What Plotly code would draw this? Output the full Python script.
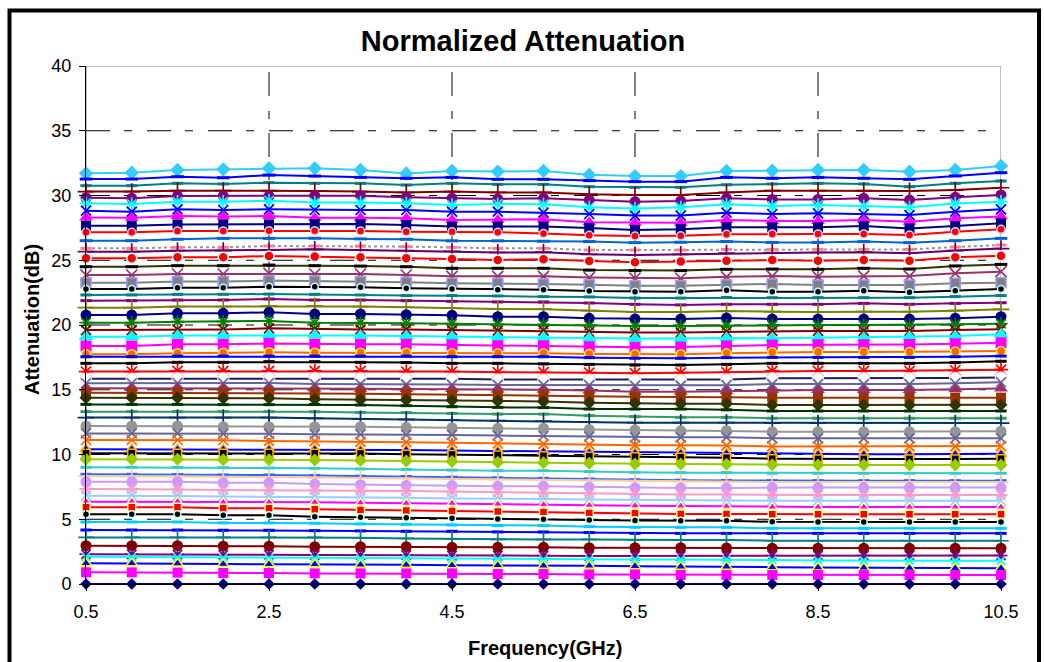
import plotly.graph_objects as go

# ---------------- data ----------------
freq_ghz = [0.5, 1.0, 1.5, 2.0, 2.5, 3.0, 3.5, 4.0, 4.5, 5.0, 5.5,
            6.0, 6.5, 7.0, 7.5, 8.0, 8.5, 9.0, 9.5, 10.0, 10.5]

x_ticks = [0.5, 2.5, 4.5, 6.5, 8.5, 10.5]
y_ticks = [0, 5, 10, 15, 20, 25, 30, 35, 40]

att01 = [31.71, 31.76, 31.97, 32.02, 32.10, 32.10, 31.97, 31.70, 31.90, 31.85, 31.90, 31.60, 31.50, 31.50, 31.90, 31.92, 31.97, 31.97, 31.84, 31.97, 32.28]
att02 = [31.27, 31.27, 31.45, 31.37, 31.58, 31.50, 31.40, 31.33, 31.40, 31.25, 31.25, 31.15, 31.07, 31.07, 31.40, 31.33, 31.40, 31.33, 31.25, 31.51, 31.76]
att03 = [30.76, 30.76, 30.94, 30.89, 30.99, 30.94, 30.94, 30.81, 30.94, 30.86, 30.86, 30.68, 30.63, 30.63, 30.83, 30.89, 30.94, 30.89, 30.68, 30.94, 31.12]
att04 = [30.30, 30.30, 30.37, 30.37, 30.37, 30.35, 30.30, 30.24, 30.30, 30.24, 30.24, 30.09, 30.04, 30.04, 30.24, 30.37, 30.37, 30.37, 30.35, 30.42, 30.60]
att05 = [29.83, 29.78, 29.96, 29.96, 29.96, 29.99, 29.99, 29.86, 29.78, 29.73, 29.78, 29.65, 29.52, 29.57, 29.78, 29.70, 29.70, 29.78, 29.65, 29.86, 30.04]
att06 = [29.40, 29.34, 29.52, 29.52, 29.60, 29.45, 29.45, 29.40, 29.27, 29.34, 29.32, 29.09, 28.99, 29.09, 29.32, 29.19, 29.27, 29.19, 29.09, 29.39, 29.52]
att07 = [28.83, 28.75, 28.93, 28.88, 28.93, 28.88, 28.88, 28.88, 28.75, 28.75, 28.67, 28.57, 28.45, 28.45, 28.67, 28.57, 28.62, 28.57, 28.49, 28.75, 28.93]
att08 = [28.31, 28.29, 28.42, 28.37, 28.42, 28.29, 28.29, 28.24, 28.11, 28.11, 28.16, 27.93, 27.90, 27.90, 28.11, 28.03, 28.03, 28.11, 27.98, 28.24, 28.37]
att09 = [27.67, 27.67, 27.77, 27.77, 27.77, 27.80, 27.80, 27.72, 27.60, 27.60, 27.60, 27.50, 27.34, 27.40, 27.55, 27.54, 27.54, 27.64, 27.46, 27.64, 27.85]
att10 = [27.16, 27.16, 27.26, 27.26, 27.28, 27.28, 27.26, 27.21, 27.21, 27.16, 27.07, 26.93, 26.87, 26.90, 27.00, 27.03, 27.03, 27.03, 26.95, 27.21, 27.39]
att11 = [26.51, 26.51, 26.62, 26.69, 26.69, 26.70, 26.65, 26.62, 26.50, 26.50, 26.47, 26.44, 26.36, 26.39, 26.44, 26.38, 26.38, 26.44, 26.36, 26.51, 26.69]
att12 = [25.92, 25.92, 26.00, 26.00, 26.10, 26.10, 26.10, 26.05, 26.00, 25.92, 25.92, 25.79, 25.79, 25.79, 25.84, 25.84, 25.84, 25.84, 25.84, 26.02, 26.18]
att13 = [25.66, 25.66, 25.74, 25.74, 25.79, 25.84, 25.79, 25.74, 25.68, 25.60, 25.62, 25.46, 25.41, 25.46, 25.55, 25.60, 25.60, 25.62, 25.55, 25.75, 25.90]
att14 = [25.15, 25.15, 25.23, 25.23, 25.33, 25.28, 25.23, 25.15, 25.10, 25.02, 25.07, 24.94, 24.85, 24.90, 24.97, 25.02, 24.97, 25.02, 24.97, 25.23, 25.35]
att15 = [24.50, 24.50, 24.58, 24.58, 24.63, 24.58, 24.55, 24.50, 24.38, 24.38, 24.38, 24.24, 24.20, 24.20, 24.30, 24.32, 24.30, 24.38, 24.32, 24.56, 24.68]
att16 = [23.86, 23.86, 23.94, 23.94, 23.99, 23.94, 23.94, 23.86, 23.76, 23.76, 23.76, 23.66, 23.61, 23.61, 23.72, 23.78, 23.73, 23.78, 23.78, 23.99, 24.12]
att17 = [23.27, 23.27, 23.35, 23.35, 23.43, 23.40, 23.35, 23.30, 23.22, 23.22, 23.17, 23.11, 23.04, 23.04, 23.11, 23.17, 23.09, 23.09, 23.09, 23.22, 23.27]
att18 = [22.78, 22.78, 22.88, 22.88, 22.96, 22.96, 22.91, 22.83, 22.78, 22.73, 22.73, 22.62, 22.57, 22.57, 22.68, 22.57, 22.57, 22.65, 22.52, 22.65, 22.78]
att19 = [22.32, 22.32, 22.37, 22.37, 22.39, 22.37, 22.32, 22.27, 22.27, 22.24, 22.19, 22.17, 22.08, 22.08, 22.13, 22.11, 22.11, 22.11, 22.11, 22.19, 22.27]
att20 = [21.88, 21.88, 21.93, 21.93, 22.01, 21.93, 21.93, 21.88, 21.83, 21.78, 21.78, 21.70, 21.60, 21.55, 21.60, 21.60, 21.60, 21.67, 21.60, 21.67, 21.72]
att21 = [21.34, 21.34, 21.42, 21.42, 21.47, 21.47, 21.42, 21.37, 21.30, 21.24, 21.22, 21.11, 21.00, 21.00, 21.08, 21.03, 21.00, 21.03, 21.03, 21.11, 21.21]
att22 = [20.77, 20.77, 20.90, 20.90, 20.98, 20.85, 20.85, 20.80, 20.75, 20.64, 20.64, 20.52, 20.47, 20.47, 20.55, 20.46, 20.46, 20.46, 20.46, 20.52, 20.64]
att23 = [20.18, 20.18, 20.26, 20.26, 20.31, 20.18, 20.18, 20.13, 20.10, 20.05, 20.05, 19.95, 19.92, 19.92, 19.95, 20.00, 20.00, 20.00, 20.00, 20.05, 20.10]
att24 = [19.61, 19.61, 19.66, 19.66, 19.74, 19.69, 19.66, 19.66, 19.61, 19.56, 19.56, 19.48, 19.43, 19.43, 19.48, 19.54, 19.54, 19.54, 19.54, 19.61, 19.68]
att25 = [19.10, 19.10, 19.18, 19.18, 19.23, 19.23, 19.18, 19.15, 19.10, 19.05, 19.05, 19.00, 18.95, 18.95, 19.00, 18.97, 19.02, 19.02, 19.10, 19.15, 19.28]
att26 = [18.38, 18.38, 18.51, 18.51, 18.58, 18.53, 18.51, 18.51, 18.46, 18.40, 18.40, 18.33, 18.28, 18.30, 18.38, 18.45, 18.48, 18.48, 18.50, 18.55, 18.63]
att27 = [17.74, 17.74, 17.81, 17.86, 17.89, 17.86, 17.86, 17.86, 17.81, 17.81, 17.81, 17.76, 17.74, 17.74, 17.81, 17.89, 17.92, 17.92, 17.92, 17.95, 17.99]
att28 = [17.55, 17.55, 17.60, 17.60, 17.60, 17.60, 17.60, 17.60, 17.55, 17.55, 17.55, 17.48, 17.43, 17.43, 17.48, 17.50, 17.50, 17.50, 17.50, 17.55, 17.60]
att29 = [17.04, 17.04, 17.12, 17.12, 17.17, 17.17, 17.12, 17.10, 17.04, 17.04, 17.00, 16.96, 16.91, 16.91, 16.96, 17.04, 17.04, 17.04, 17.04, 17.10, 17.20]
att30 = [16.40, 16.40, 16.45, 16.45, 16.45, 16.45, 16.45, 16.40, 16.40, 16.35, 16.35, 16.32, 16.27, 16.32, 16.35, 16.45, 16.45, 16.45, 16.45, 16.50, 16.55]
att31 = [15.85, 15.85, 15.88, 15.88, 15.90, 15.90, 15.88, 15.85, 15.85, 15.80, 15.80, 15.78, 15.76, 15.76, 15.80, 15.88, 15.88, 15.88, 15.88, 15.90, 15.95]
att32 = [15.50, 15.50, 15.52, 15.52, 15.52, 15.45, 15.45, 15.42, 15.40, 15.37, 15.37, 15.35, 15.32, 15.32, 15.35, 15.44, 15.44, 15.44, 15.44, 15.50, 15.58]
att33 = [15.11, 15.11, 15.11, 15.11, 15.11, 15.10, 15.08, 15.05, 15.05, 15.00, 15.00, 14.95, 14.85, 14.85, 14.90, 14.98, 14.98, 14.98, 14.98, 15.04, 15.10]
att34 = [14.77, 14.77, 14.77, 14.77, 14.77, 14.72, 14.70, 14.67, 14.62, 14.57, 14.57, 14.50, 14.46, 14.42, 14.42, 14.39, 14.39, 14.39, 14.39, 14.39, 14.39]
att35 = [14.39, 14.39, 14.39, 14.35, 14.35, 14.26, 14.23, 14.20, 14.18, 14.13, 14.10, 14.00, 13.95, 13.92, 13.92, 13.82, 13.82, 13.82, 13.82, 13.82, 13.85]
att36 = [13.87, 13.87, 13.87, 13.85, 13.85, 13.87, 13.82, 13.77, 13.69, 13.64, 13.62, 13.51, 13.51, 13.51, 13.45, 13.36, 13.36, 13.36, 13.36, 13.36, 13.36]
att37 = [13.31, 13.31, 13.31, 13.31, 13.31, 13.30, 13.25, 13.23, 13.17, 13.12, 13.12, 13.00, 12.92, 12.87, 12.87, 12.80, 12.80, 12.80, 12.80, 12.80, 12.80]
att38 = [12.85, 12.85, 12.85, 12.85, 12.85, 12.79, 12.74, 12.72, 12.66, 12.61, 12.58, 12.53, 12.46, 12.46, 12.46, 12.43, 12.43, 12.43, 12.43, 12.43, 12.43]
att39 = [12.20, 12.20, 12.20, 12.15, 12.15, 12.15, 12.15, 12.10, 12.07, 12.02, 12.02, 11.94, 11.89, 11.84, 11.84, 11.76, 11.76, 11.76, 11.76, 11.76, 11.80]
att40 = [11.63, 11.63, 11.63, 11.60, 11.60, 11.56, 11.56, 11.51, 11.51, 11.46, 11.43, 11.38, 11.33, 11.33, 11.33, 11.25, 11.25, 11.25, 11.25, 11.25, 11.25]
att41 = [11.12, 11.12, 11.12, 11.10, 11.05, 11.03, 10.98, 10.95, 10.90, 10.85, 10.82, 10.77, 10.72, 10.72, 10.70, 10.62, 10.62, 10.62, 10.62, 10.62, 10.65]
att42 = [10.40, 10.40, 10.40, 10.40, 10.40, 10.40, 10.35, 10.35, 10.30, 10.27, 10.22, 10.17, 10.14, 10.12, 10.10, 10.04, 10.02, 10.02, 10.02, 10.02, 10.05]
att43 = [10.09, 10.09, 10.09, 10.09, 10.09, 10.10, 10.07, 10.02, 10.00, 9.96, 9.91, 9.86, 9.83, 9.78, 9.74, 9.68, 9.66, 9.66, 9.66, 9.66, 9.68]
att44 = [9.63, 9.63, 9.63, 9.60, 9.60, 9.58, 9.53, 9.50, 9.45, 9.40, 9.37, 9.32, 9.27, 9.27, 9.25, 9.20, 9.19, 9.19, 9.19, 9.19, 9.19]
att45 = [9.01, 9.01, 9.01, 8.98, 8.96, 8.93, 8.88, 8.85, 8.80, 8.75, 8.75, 8.68, 8.63, 8.60, 8.60, 8.55, 8.55, 8.55, 8.55, 8.55, 8.55]
att46 = [8.47, 8.47, 8.45, 8.42, 8.42, 8.38, 8.33, 8.30, 8.25, 8.20, 8.16, 8.11, 8.05, 8.02, 8.00, 7.98, 7.98, 7.98, 7.98, 7.98, 7.98]
att47 = [8.33, 8.33, 8.31, 8.28, 8.26, 8.22, 8.18, 8.15, 8.10, 8.06, 8.03, 7.98, 7.94, 7.91, 7.89, 7.87, 7.87, 7.87, 7.87, 7.87, 7.87]
att48 = [7.90, 7.90, 7.90, 7.82, 7.82, 7.72, 7.67, 7.62, 7.60, 7.55, 7.55, 7.49, 7.44, 7.42, 7.42, 7.45, 7.45, 7.45, 7.45, 7.45, 7.45]
att49 = [7.34, 7.34, 7.30, 7.26, 7.26, 7.26, 7.21, 7.18, 7.13, 7.08, 7.05, 7.00, 6.95, 6.92, 6.92, 6.87, 6.87, 6.87, 6.87, 6.87, 6.87]
att50 = [6.82, 6.82, 6.79, 6.76, 6.74, 6.74, 6.69, 6.66, 6.61, 6.56, 6.56, 6.53, 6.49, 6.46, 6.46, 6.43, 6.43, 6.43, 6.43, 6.43, 6.43]
att51 = [6.36, 6.36, 6.36, 6.31, 6.31, 6.31, 6.28, 6.23, 6.23, 6.18, 6.13, 6.08, 6.05, 6.02, 6.00, 5.95, 5.95, 5.95, 5.95, 5.95, 5.95]
att52 = [5.92, 5.92, 5.92, 5.85, 5.85, 5.77, 5.72, 5.67, 5.64, 5.59, 5.56, 5.49, 5.46, 5.41, 5.41, 5.38, 5.38, 5.38, 5.38, 5.38, 5.38]
att53 = [5.38, 5.38, 5.38, 5.31, 5.31, 5.20, 5.15, 5.12, 5.07, 5.02, 5.00, 4.94, 4.91, 4.89, 4.89, 4.80, 4.78, 4.78, 4.78, 4.78, 4.78]
att54 = [4.79, 4.79, 4.79, 4.72, 4.72, 4.69, 4.64, 4.61, 4.56, 4.51, 4.51, 4.43, 4.38, 4.38, 4.38, 4.30, 4.30, 4.30, 4.30, 4.30, 4.30]
att55 = [4.17, 4.17, 4.17, 4.15, 4.15, 4.12, 4.10, 4.07, 4.07, 4.02, 4.02, 3.97, 3.91, 3.91, 3.91, 3.91, 3.91, 3.91, 3.91, 3.91, 3.91]
att56 = [3.60, 3.60, 3.60, 3.60, 3.60, 3.60, 3.57, 3.52, 3.49, 3.44, 3.44, 3.44, 3.40, 3.40, 3.40, 3.34, 3.34, 3.34, 3.34, 3.34, 3.34]
att57 = [2.96, 2.96, 2.96, 2.92, 2.92, 2.88, 2.88, 2.88, 2.83, 2.83, 2.83, 2.80, 2.80, 2.80, 2.78, 2.76, 2.76, 2.76, 2.76, 2.76, 2.76]
att58 = [2.30, 2.30, 2.28, 2.26, 2.26, 2.24, 2.24, 2.24, 2.19, 2.19, 2.19, 2.17, 2.17, 2.17, 2.17, 2.20, 2.20, 2.20, 2.20, 2.20, 2.20]
att59 = [2.10, 2.08, 2.05, 2.02, 2.00, 1.98, 1.98, 1.98, 1.93, 1.93, 1.90, 1.90, 1.90, 1.90, 1.90, 1.85, 1.82, 1.80, 1.80, 1.80, 1.80]
att60 = [1.60, 1.60, 1.58, 1.55, 1.52, 1.52, 1.49, 1.49, 1.44, 1.44, 1.41, 1.41, 1.38, 1.34, 1.34, 1.30, 1.28, 1.25, 1.23, 1.21, 1.21]
att61 = [0.90, 0.90, 0.88, 0.85, 0.85, 0.82, 0.82, 0.82, 0.82, 0.77, 0.77, 0.74, 0.74, 0.70, 0.70, 0.70, 0.70, 0.69, 0.69, 0.69, 0.69]
att62 = [0.00] * 21

series_values = [att01, att02, att03, att04, att05, att06, att07, att08, att09, att10,
                 att11, att12, att13, att14, att15, att16, att17, att18, att19, att20,
                 att21, att22, att23, att24, att25, att26, att27, att28, att29, att30,
                 att31, att32, att33, att34, att35, att36, att37, att38, att39, att40,
                 att41, att42, att43, att44, att45, att46, att47, att48, att49, att50,
                 att51, att52, att53, att54, att55, att56, att57, att58, att59, att60,
                 att61, att62]

# ---------------- styles (line colour, marker symbol, marker fill, marker edge, size) ----------------
DIA, SQ, TRI, CIR = "diamond", "square", "triangle-up", "circle"
XX, PL, ST, DS = "x-thin-open", "cross-thin-open", "asterisk-open", "line-ew-open"

styles = [
    ("#33CCFF", DIA, "#33CCFF", "#33CCFF", 11),
    ("#0000FF", DS, "#0000FF", "#0000FF", 9),
    ("#008080", DS, "#008080", "#008080", 8),
    ("#800000", PL, "#800000", "#800000", 12),
    ("#800080", CIR, "#800080", "#800080", 11),
    ("#00FFFF", ST, "#00FFFF", "#00FFFF", 11),
    ("#0000FF", XX, "#0000FF", "#0000FF", 10),
    ("#FF00FF", TRI, "#FF00FF", "#FF00FF", 12),
    ("#000080", SQ, "#000080", "#000080", 10),
    ("#FF0000", CIR, "#FF0000", "#CCCCFF", 8),
    ("#0066CC", DS, "#0066CC", "#0066CC", 9),
    ("#969696", DS, "#FF8080", "#FF8080", 8),
    ("#660066", PL, "#660066", "#660066", 12),
    ("#FF0000", CIR, "#FF0000", "#CCFFFF", 10),
    ("#333300", DS, "#000000", "#000000", 9),
    ("#993366", XX, "#993366", "#993366", 11),
    ("#808080", SQ, "#808080", "#9999FF", 10),
    ("#000000", CIR, "#000000", "#CCFFFF", 7),
    ("#008080", DS, "#008080", "#008080", 8),
    ("#800080", DS, "#800080", "#800080", 8),
    ("#808000", PL, "#808000", "#808000", 12),
    ("#000080", CIR, "#000080", "#000080", 11),
    ("#008000", ST, "#008000", "#008000", 11),
    ("#800000", XX, "#800000", "#800000", 10),
    ("#00FFFF", TRI, "#00FFFF", "#00FFFF", 13),
    ("#FF00FF", SQ, "#FF00FF", "#FF00FF", 11),
    ("#FF6600", CIR, "#FF6600", "#FFFF00", 9),
    ("#0000FF", DS, "#0000FF", "#0000FF", 8),
    ("#000000", DS, "#000000", "#000000", 8),
    ("#FF0000", ST, "#FF0000", "#FF0000", 12),
    ("#1F1F4F", CIR, "#FFFFFF", "#E6E6FF", 11),
    ("#666699", XX, "#666699", "#666699", 10),
    ("#993366", TRI, "#993366", "#993366", 12),
    ("#993300", SQ, "#993300", "#993300", 10),
    ("#333300", DIA, "#333300", "#333300", 10),
    ("#003300", DS, "#003300", "#003300", 8),
    ("#339966", DS, "#339966", "#339966", 8),
    ("#003366", PL, "#003366", "#003366", 12),
    ("#969696", CIR, "#969696", "#969696", 11),
    ("#666699", XX, "#666699", "#666699", 10),
    ("#FF6600", XX, "#FF6600", "#FF6600", 10),
    ("#0000FF", TRI, "#0000FF", "#FFB000", 10),
    ("#000000", SQ, "#000000", "#FFB000", 8),
    ("#99CC00", DIA, "#99CC00", "#99CC00", 10),
    ("#33CCCC", DS, "#33CCCC", "#33CCCC", 8),
    ("#3366FF", DS, "#3366FF", "#3366FF", 8),
    ("#FFCC99", PL, "#FFCC99", "#FFCC99", 11),
    ("#CC99FF", CIR, "#CC99FF", "#CC99FF", 11),
    ("#FF99CC", ST, "#FF99CC", "#FF99CC", 11),
    ("#99CCFF", XX, "#99CCFF", "#99CCFF", 10),
    ("#FF00FF", TRI, "#FF00FF", "#FFFF99", 9),
    ("#FF0000", SQ, "#FF0000", "#FFFF99", 8),
    ("#000000", CIR, "#000000", "#CCFFFF", 7),
    ("#00CCFF", DS, "#00CCFF", "#00CCFF", 8),
    ("#0000FF", DS, "#0000FF", "#0000FF", 8),
    ("#008080", PL, "#008080", "#008080", 11),
    ("#800000", CIR, "#800000", "#800000", 11),
    ("#800080", ST, "#800080", "#800080", 11),
    ("#00FFFF", XX, "#00FFFF", "#00FFFF", 8),
    ("#0000FF", TRI, "#0000FF", "#FFFF00", 10),
    ("#FF00FF", SQ, "#FF00FF", "#FF00FF", 10),
    ("#000080", DIA, "#000080", "#000080", 9),
]

FONT = "Arial, 'Liberation Sans', Helvetica, sans-serif"

fig = go.Figure()
for i, (vals, st) in enumerate(zip(series_values, styles)):
    lc, sym, fill, edge, size = st
    is_open = sym.endswith("-open")
    line_dash = "dot" if i == 11 else "solid"
    fig.add_trace(go.Scatter(
        x=freq_ghz, y=vals, mode="lines+markers",
        name=f"Series {i + 1}",
        line=dict(color=lc, width=2, dash=line_dash),
        marker=dict(symbol=sym, size=size, color=fill,
                    line=dict(color=fill if is_open else edge,
                              width=(3 if sym == DS else 1.7) if is_open else
                              (1.5 if edge != fill else 0))),
        cliponaxis=False,
        showlegend=False,
    ))

# plot-area frame (grey top/right) and dashed grid
shapes = [dict(type="rect", xref="x", yref="y", x0=x_ticks[0], x1=x_ticks[-1],
               y0=y_ticks[0], y1=y_ticks[-1], line=dict(color="#808080", width=1),
               layer="below")]
dash_pat = "24px,14px,8px,15px"
for yv in y_ticks[1:-1]:
    shapes.append(dict(type="line", xref="x", yref="y", x0=x_ticks[0], x1=x_ticks[-1],
                       y0=yv, y1=yv, line=dict(color="#000000", width=1, dash=dash_pat),
                       layer="below"))
for xv in x_ticks[1:-1]:
    shapes.append(dict(type="line", xref="x", yref="y", x0=xv, x1=xv,
                       y0=y_ticks[0], y1=y_ticks[-1],
                       line=dict(color="#000000", width=1, dash=dash_pat),
                       layer="below"))
# outer chart border
L, R, T, B = 86, 43, 66, 78
PW, PH = 1044 - L - R, 662 - T - B
def px2paper_x(px):
    return (px - L) / PW
def px2paper_y(py):
    return (662 - B - py) / PH
shapes.append(dict(type="rect", xref="paper", yref="paper",
                   x0=px2paper_x(9.5), x1=px2paper_x(1039), y0=px2paper_y(700), y1=px2paper_y(10.5),
                   line=dict(color="#000000", width=4), layer="above"))

fig.update_layout(
    width=1044, height=662,
    margin=dict(l=L, r=R, t=T, b=B),
    paper_bgcolor="#FFFFFF", plot_bgcolor="#FFFFFF",
    font=dict(family=FONT, color="#000000", size=18),
    title=dict(text="<b>Normalized Attenuation</b>", x=523 / 1044,
               xref="container", xanchor="center", y=1 - 41 / 662, yanchor="middle",
               font=dict(size=29, family=FONT, color="#000000")),
    shapes=shapes,
    xaxis=dict(range=[x_ticks[0], x_ticks[-1]], tickvals=x_ticks,
               ticktext=[f"{v:g}" for v in x_ticks],
               showgrid=False, zeroline=False, showline=True, linecolor="#000000",
               linewidth=1, ticks="outside", ticklen=6, tickcolor="#000000",
               tickfont=dict(size=18, family=FONT), ticklabelstandoff=5),
    yaxis=dict(range=[y_ticks[0], y_ticks[-1]], tickvals=y_ticks,
               showgrid=False, zeroline=False, showline=True, linecolor="#000000",
               linewidth=1, ticks="outside", ticklen=6, tickcolor="#000000",
               tickfont=dict(size=18, family=FONT), ticklabelstandoff=4),
    annotations=[
        dict(text="<b>Frequency(GHz)</b>", xref="paper", yref="paper",
             x=px2paper_x(545), y=px2paper_y(648), xanchor="center", yanchor="middle",
             showarrow=False, font=dict(size=20, family=FONT, color="#000000")),
        dict(text="<b>Attenuation(dB)</b>", xref="paper", yref="paper",
             x=px2paper_x(32), y=px2paper_y(320), xanchor="center", yanchor="middle",
             textangle=-90, showarrow=False,
             font=dict(size=20, family=FONT, color="#000000")),
    ],
)

fig.write_html("out.html", config={"displayModeBar": False},
               post_script="document.body.style.margin='0';document.body.style.overflow='hidden';")
